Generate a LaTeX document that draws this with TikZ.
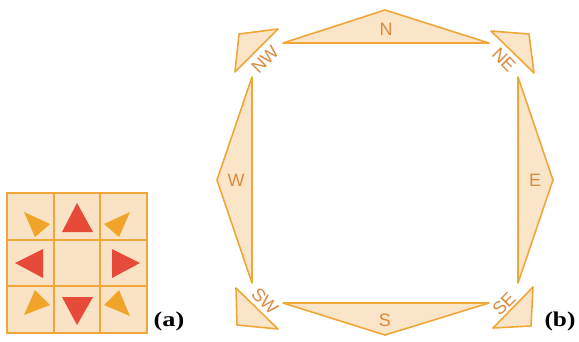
\documentclass[tikz,border=0pt]{standalone}
\usepackage{fontspec}
\setmainfont{Liberation Serif}
\newfontfamily\labfont{Liberation Sans}
\definecolor{peach}{HTML}{FBE5C8}
\definecolor{cellfill}{HTML}{F9E3C4}
\definecolor{edge}{HTML}{F0A73A}
\definecolor{redtri}{HTML}{E84A3A}
\definecolor{orgtri}{HTML}{F0A52A}
\definecolor{txt}{HTML}{D98A3E}
\begin{document}
\begin{tikzpicture}[x=1pt,y=-1pt,
  tri/.style={draw=edge,fill=peach,line width=1.6pt,line join=round},
  gridline/.style={draw=edge,line width=1.8pt},
  redfill/.style={fill=redtri},
  orgfill/.style={fill=orgtri},
  lab/.style={text=txt,font=\labfont\fontsize{18}{18}\selectfont,inner sep=0pt},
  figcap/.style={font=\bfseries\fontsize{21}{21}\selectfont,inner sep=0pt}]
\useasboundingbox (0,0) rectangle (579,341);
% panel (a)
\fill[cellfill] (7,193) rectangle (147,333);
\draw[gridline] (7,193) rectangle (147,333);
\draw[gridline] (53.7,193) -- (53.7,333) (100.3,193) -- (100.3,333)
            (7,239.7) -- (147,239.7) (7,286.3) -- (147,286.3);
\fill[redfill] (77,203) -- (62,232) -- (93,232) -- cycle;
\fill[redfill] (77,325) -- (62,297) -- (93,297) -- cycle;
\fill[redfill] (15,263) -- (43,249) -- (43,278) -- cycle;
\fill[redfill] (140,263) -- (112,249) -- (112,278) -- cycle;
\fill[orgfill] (24,212) -- (50,224) -- (35,237) -- cycle;
\fill[orgfill] (130,212) -- (104,224) -- (119,237) -- cycle;
\fill[orgfill] (24,315) -- (50,305) -- (35,290) -- cycle;
\fill[orgfill] (130,316) -- (104,305) -- (119,290) -- cycle;
\node[figcap,anchor=center] (la) at (169,321) {\scalebox{1.25}[1]{(a)}};
% panel (b)
\draw[tri] (283,43) -- (385,10) -- (489,43) -- cycle;
\draw[tri] (283,303) -- (385,335) -- (489,303) -- cycle;
\draw[tri] (252,77) -- (217,180) -- (252,283) -- cycle;
\draw[tri] (518,77) -- (553,180) -- (518,283) -- cycle;
\draw[tri] (239,34) -- (278,29) -- (235,72) -- cycle;
\draw[tri] (491,31) -- (529,34) -- (534,73) -- cycle;
\draw[tri] (236,288) -- (278,329) -- (237,325) -- cycle;
\draw[tri] (533,287) -- (531,326) -- (493,328) -- cycle;
\node[lab] (n) at (386,29) {N};
\node[lab] (s) at (385,320) {S};
\node[lab] (w) at (236,180) {W};
\node[lab] (e) at (535,180) {E};
\node[lab,rotate=45] (nw) at (265,60) {NW};
\node[lab,rotate=-45] (ne) at (504,60) {NE};
\node[lab,rotate=-45] (sw) at (265,301) {SW};
\node[lab,rotate=45] (se) at (504,304) {SE};
\node[figcap,anchor=center] (lb) at (560,321) {\scalebox{1.2}[1]{(b)}};
\end{tikzpicture}
\end{document}
